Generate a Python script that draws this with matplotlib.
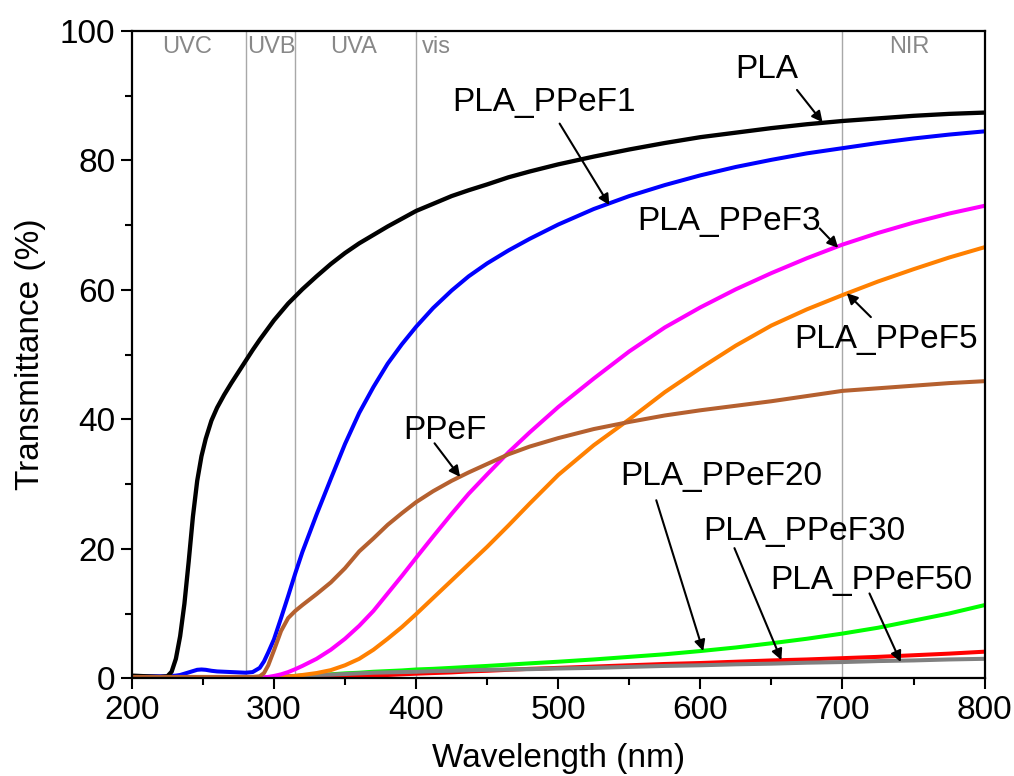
import matplotlib
matplotlib.use("Agg")
import matplotlib.pyplot as plt
from matplotlib.ticker import MultipleLocator

plt.rcParams['font.family'] = ['Liberation Sans', 'DejaVu Sans']

# wavelength grid (nm)
wl = [200, 210, 220, 225, 228, 231, 234, 237, 240, 243, 246, 249, 252, 256, 260,
      265, 270, 275, 280, 285, 290, 293, 296, 300, 305, 310, 315, 320, 330, 340,
      350, 360, 370, 380, 390, 400, 412, 425, 437, 450, 465, 480, 500, 525, 550,
      575, 600, 625, 650, 675, 700, 725, 750, 775, 800]

# transmittance (%)
pla = [0.4, 0.3, 0.2, 0.3, 1.0, 3.0, 6.5, 11.5, 18, 25, 30.5, 34.3, 37, 39.8, 41.8,
       43.8, 45.6, 47.3, 49, 50.7, 52.3, 53.2, 54.1, 55.3, 56.6, 57.9, 59, 60.1, 62.1, 64,
       65.7, 67.2, 68.5, 69.8, 71, 72.2, 73.3, 74.5, 75.4, 76.3, 77.4, 78.3, 79.4, 80.6, 81.7,
       82.7, 83.6, 84.3, 85, 85.6, 86.1, 86.5, 86.9, 87.2, 87.4]
ppef1 = [0.3, 0.3, 0.3, 0.3, 0.35, 0.4, 0.5, 0.7, 0.9, 1.1, 1.3, 1.35, 1.3, 1.15, 1.05,
         1.0, 0.95, 0.9, 0.85, 0.95, 1.6, 2.6, 4.0, 6.0, 9.3, 12.7, 16.2, 19.5, 25.3, 30.8,
         36.2, 41, 45, 48.6, 51.6, 54.3, 57.2, 59.9, 62.1, 64.1, 66.1, 67.9, 70.1, 72.5, 74.5,
         76.2, 77.7, 79.0, 80.1, 81.1, 81.9, 82.7, 83.4, 84.0, 84.5]
ppef3 = [0.1] * 21 + [
    0.15, 0.2, 0.35, 0.6, 0.95, 1.4, 1.9, 3.0, 4.4,
    6.1, 8.1, 10.4, 13.1, 15.8, 18.6, 21.9, 25.4, 28.5, 31.5, 34.9, 38.0, 41.9, 46.3, 50.5,
    54.2, 57.3, 60.1, 62.6, 64.9, 67.0, 68.8, 70.4, 71.8, 73.0]
ppef5 = [0.1] * 24 + [
    0.15, 0.25, 0.35, 0.5, 0.8, 1.25,
    2.0, 3.0, 4.4, 6.1, 7.9, 9.9, 12.4, 15.1, 17.6, 20.3, 23.6, 27.0, 31.4, 36.0, 40.0,
    44.2, 47.9, 51.4, 54.5, 57.0, 59.2, 61.3, 63.2, 65.0, 66.6]
ppef = [0.2] * 20 + [
    0.3, 0.8, 2.0, 4.3, 7.3, 9.3, 10.4, 11.3, 13.0, 14.8,
    17.0, 19.6, 21.6, 23.7, 25.5, 27.2, 28.9, 30.5, 31.8, 33.1, 34.6, 35.8, 37.1, 38.5, 39.6,
    40.6, 41.4, 42.1, 42.8, 43.6, 44.4, 44.8, 45.2, 45.6, 45.9]
ppef20 = [0.1] * 23 + [
    0.2, 0.25, 0.3, 0.35, 0.4, 0.5, 0.6,
    0.75, 0.85, 1.0, 1.1, 1.2, 1.35, 1.45, 1.6, 1.75, 1.9, 2.1, 2.3, 2.55, 2.9, 3.3,
    3.7, 4.2, 4.75, 5.4, 6.1, 6.9, 7.8, 8.9, 10.0, 11.3]
ppef30 = [0.0] * 28 + [
    0.05, 0.1,
    0.2, 0.3, 0.4, 0.5, 0.6, 0.7, 0.8, 0.9, 1.05, 1.15, 1.3, 1.45, 1.6, 1.8, 2.0,
    2.2, 2.35, 2.55, 2.75, 2.9, 3.1, 3.3, 3.55, 3.8, 4.1]
ppef50 = [0.1] * 23 + [
    0.2, 0.25, 0.3, 0.35, 0.4, 0.5, 0.55,
    0.65, 0.75, 0.85, 0.9, 0.95, 1.0, 1.1, 1.15, 1.25, 1.3, 1.35, 1.4, 1.5, 1.6, 1.75,
    1.9, 2.0, 2.15, 2.25, 2.4, 2.5, 2.65, 2.75, 2.9, 3.0]

region_edges = [280, 315, 400, 700]
region_names = ['UVC', 'UVB', 'UVA', 'vis', 'NIR']
region_x = [239, 298, 356, 414, 747]

fig = plt.figure(figsize=(10.14, 7.76), dpi=100)
ax = fig.add_axes([0.130, 0.126, 0.841, 0.834])

for x in region_edges:
    ax.axvline(x, color='#a8a8a8', lw=1, zorder=1)
for name, x in zip(region_names, region_x):
    ax.text(x, 97.6, name, ha='center', va='center', fontsize=17, color='#888888')

# draw order: low curves first, PPeF on top
ax.plot(wl, ppef20, color='#00ff00', lw=2.9)
ax.plot(wl, ppef30, color='#ff0000', lw=2.9)
ax.plot(wl, ppef50, color='#808080', lw=2.9)
ax.plot(wl, ppef5, color='#ff8000', lw=2.9)
ax.plot(wl, ppef3, color='#ff00ff', lw=2.9)
ax.plot(wl, ppef1, color='#0000ff', lw=2.9)
ax.plot(wl, pla, color='black', lw=3.1)
ax.plot(wl, ppef, color='#b5602f', lw=2.9)

# labels with arrows: (text, text pos, arrow tail, arrow head)
notes = [
    ('PLA', (647, 94.0), (668, 90.9), (686, 85.9)),
    ('PLA_PPeF1', (490, 89.0), (501, 85.7), (536, 73.1)),
    ('PLA_PPeF3', (620, 70.5), (684, 69.5), (697, 66.5)),
    ('PLA_PPeF5', (731, 52.4), (720, 55.8), (703, 59.5)),
    ('PPeF', (420, 38.3), (413, 36.3), (431, 31.1)),
    ('PLA_PPeF20', (615, 31.2), (569, 27.5), (602, 4.2)),
    ('PLA_PPeF30', (673, 22.6), (624, 20.1), (657, 2.8)),
    ('PLA_PPeF50', (720, 15.1), (719, 13.1), (741, 2.5)),
]
for label, tpos, tail, head in notes:
    ax.text(tpos[0], tpos[1], label, ha='center', va='center', fontsize=24)
    ax.annotate('', xy=head, xytext=tail,
                arrowprops=dict(arrowstyle='-|>', color='black', lw=1.5,
                                mutation_scale=16, shrinkA=0, shrinkB=0))

ax.set_xlim(200, 800)
ax.set_ylim(0, 100)
ax.xaxis.set_major_locator(MultipleLocator(100))
ax.xaxis.set_minor_locator(MultipleLocator(50))
ax.yaxis.set_major_locator(MultipleLocator(20))
ax.yaxis.set_minor_locator(MultipleLocator(10))
ax.tick_params(which='major', direction='out', length=8, width=1.5,
               labelsize=24, pad=4)
ax.tick_params(which='minor', direction='out', length=5, width=1.5)
for s in ax.spines.values():
    s.set_linewidth(1.6)

ax.set_xlabel('Wavelength (nm)', fontsize=24, labelpad=12)
ax.set_ylabel('Transmittance (%)', fontsize=24, labelpad=10)

fig.savefig('out.png', dpi=100)
